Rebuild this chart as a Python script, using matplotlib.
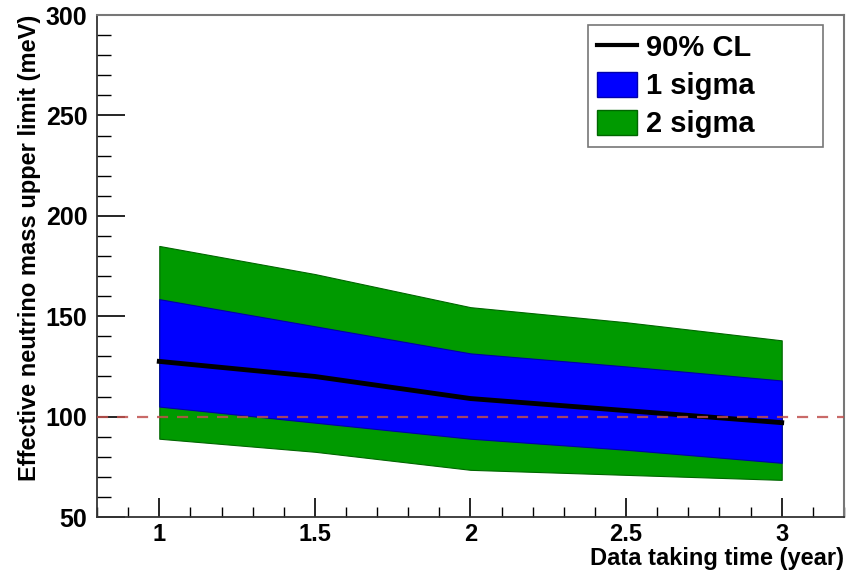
#!/usr/bin/env python3
# -*- coding: utf-8 -*-

import matplotlib
matplotlib.use("Agg")
import matplotlib.pyplot as plt
from matplotlib.lines import Line2D
from matplotlib.patches import Patch
from matplotlib.ticker import MultipleLocator

# data
years = [1.0, 1.5, 2.0, 2.5, 3.0]
cl90 = [127.5, 120.0, 109.0, 103.0, 97.0]
sigma1_hi = [158.5, 145.0, 131.5, 125.0, 118.0]
sigma1_lo = [105.0, 97.0, 89.0, 83.5, 77.0]
sigma2_hi = [185.0, 171.0, 154.5, 147.0, 138.0]
sigma2_lo = [89.0, 82.5, 73.5, 71.0, 68.5]
ref_level = 100

plt.rcParams['font.family'] = ['Liberation Sans', 'DejaVu Sans']
plt.rcParams['font.weight'] = 'bold'

fig = plt.figure(figsize=(8.61, 5.78), dpi=100)
ax = fig.add_axes([0.1127, 0.1055, 0.8675, 0.8685])

ax.fill_between(years, sigma2_lo, sigma2_hi, color='#009a00', edgecolor='#006600', lw=0.8, zorder=1)
ax.fill_between(years, sigma1_lo, sigma1_hi, color='#0000ff', edgecolor='#0000aa', lw=0.8, zorder=2)
ax.plot(years, cl90, color='black', lw=3.5, zorder=3)
ax.axhline(ref_level, color='#c0504d', lw=1.6, ls=(0, (5, 4)), zorder=4, alpha=0.85)

ax.set_xlim(0.8, 3.2)
ax.set_ylim(50, 300)
ax.xaxis.set_minor_locator(MultipleLocator(0.1))
ax.yaxis.set_major_locator(MultipleLocator(50))
ax.yaxis.set_minor_locator(MultipleLocator(10))
ax.set_xticks([1, 1.5, 2, 2.5, 3])
ax.set_xticklabels(['1', '1.5', '2', '2.5', '3'])

ax.tick_params(axis='x', which='major', direction='in', length=14, width=1.2, labelsize=17, pad=4)
ax.tick_params(axis='x', which='minor', direction='in', length=7, width=1.0)
ax.tick_params(axis='y', which='major', direction='in', length=20, width=1.2, labelsize=18, pad=7)
ax.tick_params(axis='y', which='minor', direction='in', length=10, width=1.0)
for lab in ax.get_xticklabels() + ax.get_yticklabels():
    lab.set_fontweight('bold')

for s in ['left', 'bottom']:
    ax.spines[s].set_color('#333333')
    ax.spines[s].set_linewidth(1.3)
for s in ['top', 'right']:
    ax.spines[s].set_color('#777777')
    ax.spines[s].set_linewidth(1.5)

ax.set_xlabel('Data taking time (year)', fontsize=17, fontweight='bold', loc='right', labelpad=1)
ax.set_ylabel('Effective neutrino mass upper limit (meV)', fontsize=17, fontweight='bold', loc='top', labelpad=3)

legend_elements = [
    Line2D([0], [0], color='black', lw=3, label='90% CL'),
    Patch(facecolor='#0000ff', edgecolor='#0000aa', label='1 sigma'),
    Patch(facecolor='#009a00', edgecolor='#006600', label='2 sigma'),
]
leg = ax.legend(handles=legend_elements, loc='upper left', bbox_to_anchor=(0.657, 0.5, 0.315, 0.48),
                mode='expand', fontsize=21, frameon=True, fancybox=False, handlelength=1.4,
                handleheight=0.95, handletextpad=0.3, labelspacing=0.32, borderpad=0.3, borderaxespad=0.0)
leg.get_frame().set_edgecolor('#555555')
leg.get_frame().set_linewidth(1.2)
for t in leg.get_texts():
    t.set_fontweight('bold')

fig.savefig('out.png', dpi=100)
